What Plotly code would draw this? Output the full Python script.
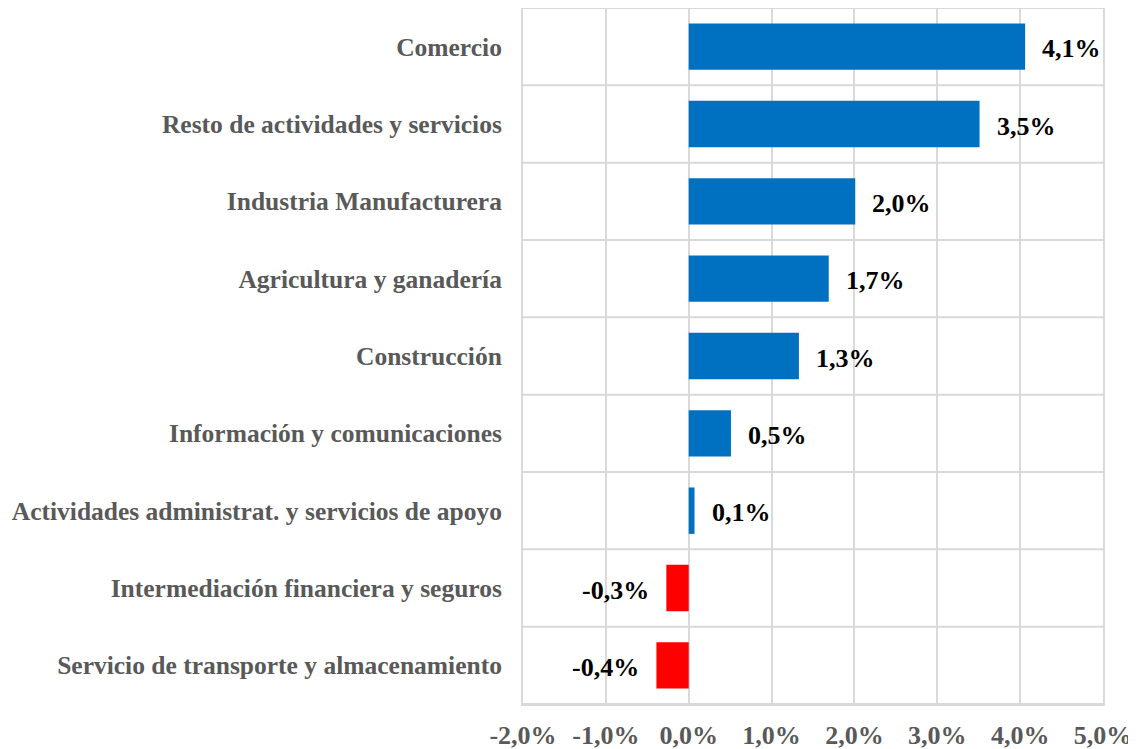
import plotly.graph_objects as go

categorias = [
    "Comercio",
    "Resto de actividades y servicios",
    "Industria Manufacturera",
    "Agricultura y ganadería",
    "Construcción",
    "Información y comunicaciones",
    "Actividades administrat. y servicios de apoyo",
    "Intermediación financiera y seguros",
    "Servicio de transporte y almacenamiento",
]
variacion = [4.06, 3.51, 2.01, 1.69, 1.33, 0.51, 0.07, -0.27, -0.39]
etiquetas = ["4,1%", "3,5%", "2,0%", "1,7%", "1,3%", "0,5%", "0,1%", "-0,3%", "-0,4%"]
x_ticks = [-2, -1, 0, 1, 2, 3, 4, 5]
x_ticktext = ["-2,0%", "-1,0%", "0,0%", "1,0%", "2,0%", "3,0%", "4,0%", "5,0%"]

FONT = "Times New Roman, Liberation Serif, serif"
GRID = "#d9d9d9"

pos = list(range(len(categorias)))
colores = ["#0070C0" if v >= 0 else "#FF0000" for v in variacion]

fig = go.Figure()
fig.add_trace(
    go.Bar(
        x=variacion,
        y=pos,
        orientation="h",
        marker=dict(color=colores, line=dict(width=0)),
        width=0.6,
        hoverinfo="x",
    )
)

# etiquetas de valor
for p, v, t in zip(pos, variacion, etiquetas):
    fig.add_annotation(
        x=v, y=p, text=t, showarrow=False,
        xanchor="left" if v >= 0 else "right",
        xshift=15 if v >= 0 else -15,
        yshift=-2,
        font=dict(family=FONT, size=26, color="#000000", weight="bold"),
    )

# lineas horizontales entre categorias
for i in range(len(categorias) + 1):
    fig.add_shape(
        type="line", xref="paper", yref="y",
        x0=0, x1=1, y0=i - 0.5, y1=i - 0.5,
        line=dict(color=GRID, width=2), layer="below",
    )

# la pagina tiene 8px de margen en body: se compensa aqui
fig.update_layout(
    width=1136, height=749,
    margin=dict(l=515, r=41, t=0, b=53, autoexpand=False),
    paper_bgcolor="white", plot_bgcolor="white",
    showlegend=False,
    font=dict(family=FONT, size=25, color="#595959"),
    xaxis=dict(
        range=[-2, 5], tickvals=x_ticks, ticktext=x_ticktext,
        showgrid=True, gridcolor=GRID, gridwidth=2,
        zeroline=False, showline=True, linecolor=GRID, linewidth=2, mirror=True,
        ticks="", ticklabelstandoff=7,
        tickfont=dict(family=FONT, size=26, color="#595959", weight="bold"),
        fixedrange=True,
    ),
    yaxis=dict(
        range=[len(categorias) - 0.5, -0.5],
        tickvals=pos, ticktext=categorias,
        showgrid=False, zeroline=False, ticks="", ticklabelstandoff=14,
        showline=True, linecolor=GRID, linewidth=2, mirror=True,
        tickfont=dict(family=FONT, size=25.5, color="#595959", weight="bold"),
        fixedrange=True,
    ),
)

fig.write_html("out.html")
